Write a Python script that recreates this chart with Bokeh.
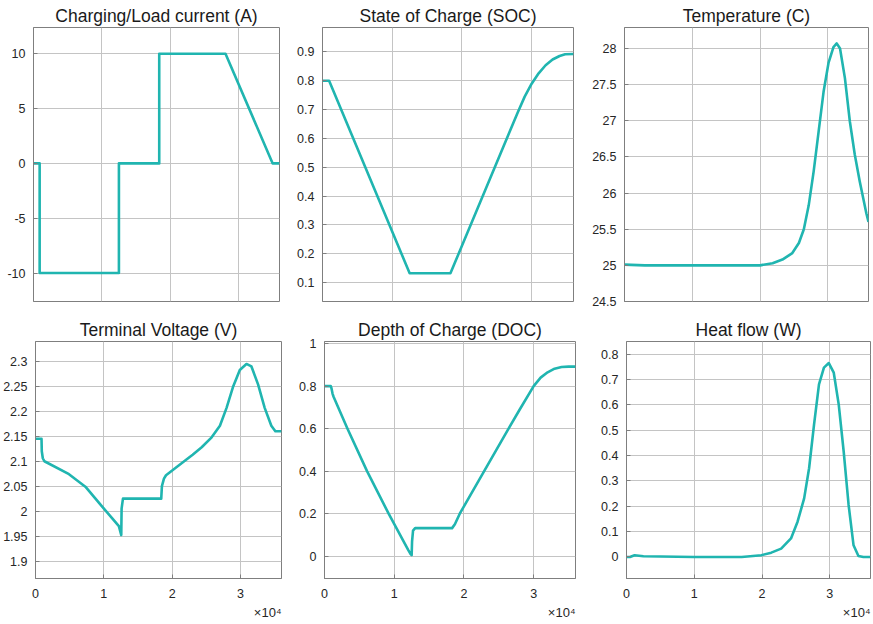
from bokeh.plotting import figure
from bokeh.layouts import column, row
from bokeh.models import Range1d, FixedTicker, Title
from bokeh.embed import file_html
from bokeh.resources import INLINE

# ---- data (time in s) ----
cur_t = [0, 900, 900, 12500, 12500, 18400, 18400, 28100, 35000, 36000]
cur_v = [0, 0, -10, -10, 0, 0, 10, 10, 0, 0]

soc_t = [0, 950, 12500, 18350, 28000, 29000, 30000, 31000, 32000, 33000, 34000, 34800, 36000]
soc_v = [0.80, 0.80, 0.132, 0.132, 0.69, 0.745, 0.79, 0.826, 0.854, 0.874, 0.886, 0.892, 0.893]

tmp_t = [0, 3000, 10000, 20000, 21850, 23300, 24760, 25730, 26460, 27180, 27910, 28640,
         29370, 30100, 30830, 31310, 31800, 32520, 33250, 33980, 34710, 35680, 36000]
tmp_v = [25.01, 25.0, 25.0, 25.0, 25.03, 25.08, 25.17, 25.31, 25.5, 25.83, 26.3, 26.85,
         27.4, 27.8, 28.02, 28.07, 28.0, 27.59, 26.99, 26.53, 26.16, 25.72, 25.6]

vol_t = [0, 880, 920, 1070, 1300, 4900, 7300, 9760, 11200, 12200, 12550, 12600, 12800,
         18400, 18500, 18800, 19100, 21950, 23000, 24320, 25780, 26990, 27960, 28930,
         29900, 30870, 31600, 32570, 33540, 34510, 35100, 36000]
vol_v = [2.145, 2.145, 2.12, 2.106, 2.10, 2.074, 2.049, 2.009, 1.986, 1.97, 1.952, 2.005, 2.025,
         2.025, 2.05, 2.065, 2.072, 2.102, 2.113, 2.128, 2.148, 2.171, 2.207, 2.25,
         2.283, 2.295, 2.29, 2.254, 2.207, 2.171, 2.16, 2.16]

doc_t = [0, 900, 1000, 1150, 1300, 3300, 6100, 9200, 12000, 12350, 12500, 12560, 12700, 13000,
         18300, 18700, 19400, 22900, 26400, 28000, 30000, 31000, 32000, 33000, 34000, 35000, 36000]
doc_v = [0.80, 0.80, 0.79, 0.765, 0.75, 0.6, 0.4, 0.2, 0.03, 0.01, 0.005, 0.07, 0.12, 0.132,
         0.132, 0.15, 0.2, 0.4, 0.6, 0.69, 0.80, 0.84, 0.865, 0.882, 0.89, 0.892, 0.892]

heat_t = [0, 500, 1200, 2500, 10000, 17000, 19900, 21360, 22820, 24270, 25240, 26210, 26940,
          27670, 28400, 29130, 29850, 30580, 31310, 32040, 32770, 33500, 34220, 34950, 36000]
heat_v = [0.0, 0.0, 0.007, 0.003, 0.0, 0.0, 0.007, 0.017, 0.033, 0.073, 0.139, 0.231, 0.35,
          0.522, 0.681, 0.747, 0.765, 0.727, 0.602, 0.417, 0.205, 0.046, 0.004, 0.0, 0.0]

x_ticks = [0, 10000, 20000, 30000]
x_labels = ["0", "1", "2", "3"]
x_mult = "×10⁴"

cur_ticks = [-10, -5, 0, 5, 10]
cur_labels = ["-10", "-5", "0", "5", "10"]
soc_ticks = [0.1, 0.2, 0.3, 0.4, 0.5, 0.6, 0.7, 0.8, 0.9]
soc_labels = ["0.1", "0.2", "0.3", "0.4", "0.5", "0.6", "0.7", "0.8", "0.9"]
tmp_ticks = [24.5, 25, 25.5, 26, 26.5, 27, 27.5, 28]
tmp_labels = ["24.5", "25", "25.5", "26", "26.5", "27", "27.5", "28"]
vol_ticks = [1.9, 1.95, 2.0, 2.05, 2.1, 2.15, 2.2, 2.25, 2.3]
vol_labels = ["1.9", "1.95", "2", "2.05", "2.1", "2.15", "2.2", "2.25", "2.3"]
doc_ticks = [0, 0.2, 0.4, 0.6, 0.8, 1.0]
doc_labels = ["0", "0.2", "0.4", "0.6", "0.8", "1"]
heat_ticks = [0, 0.1, 0.2, 0.3, 0.4, 0.5, 0.6, 0.7, 0.8]
heat_labels = ["0", "0.1", "0.2", "0.3", "0.4", "0.5", "0.6", "0.7", "0.8"]

LINE = "#20B5B0"
FONT = "Liberation Sans"


def make(title, xs, ys, yr, yt, yl, fw, fh, left, right, top, bottom, show_x):
    p = figure(frame_width=fw, frame_height=fh,
               x_range=Range1d(0, 36000), y_range=Range1d(*yr),
               output_backend="svg", toolbar_location=None,
               min_border_left=left, min_border_right=right,
               min_border_top=top, min_border_bottom=bottom,
               title=title)
    p.title.text_font = FONT
    p.title.text_font_size = "17.5px"
    p.title.text_font_style = "normal"
    p.title.text_color = "#1a1a1a"
    p.title.align = "center"
    p.title.standoff = 3
    p.outline_line_color = "#7f7f7f"
    p.outline_line_width = 1
    p.background_fill_color = "white"
    p.border_fill_color = "white"

    p.line(xs, ys, line_color=LINE, line_width=2.6, line_join="round")

    p.yaxis.ticker = FixedTicker(ticks=yt)
    p.ygrid.ticker = FixedTicker(ticks=yt)
    p.yaxis.major_label_overrides = {t: l for t, l in zip(yt, yl)}
    p.xaxis.ticker = FixedTicker(ticks=x_ticks)
    p.xgrid.ticker = FixedTicker(ticks=x_ticks)
    p.xaxis.major_label_overrides = {t: l for t, l in zip(x_ticks, x_labels)}

    for ax in (p.xaxis, p.yaxis):
        ax.axis_line_color = "#7f7f7f"
        ax.major_tick_in = 4
        ax.major_tick_out = 0
        ax.major_tick_line_color = "#7f7f7f"
        ax.minor_tick_line_color = None
        ax.major_label_text_font = FONT
        ax.major_label_text_font_size = "12.5px"
        ax.major_label_text_color = "#262626"
    p.yaxis.major_label_standoff = 8
    p.xaxis.major_label_standoff = 10

    for g in (p.xgrid, p.ygrid):
        g.grid_line_color = "#c4c4c4"
        g.grid_line_width = 1
        g.grid_line_alpha = 1.0

    if show_x:
        p.add_layout(Title(text=x_mult, align="right", text_font=FONT,
                           text_font_size="13px", text_font_style="normal",
                           text_color="#262626", standoff=4), "below")
    else:
        p.xaxis.visible = False
    return p


W1, W2, W3 = 246, 251, 244
H1, H2 = 274, 237

p1 = make("Charging/Load current (A)", cur_t, cur_v, (-12.6, 12.4), cur_ticks, cur_labels,
          W1, H1, 33, 8, 27, 8, False)
p2 = make("State of Charge (SOC)", soc_t, soc_v, (0.034, 0.985), soc_ticks, soc_labels,
          W2, H1, 35, 8, 27, 8, False)
p3 = make("Temperature (C)", tmp_t, tmp_v, (24.5, 28.29), tmp_ticks, tmp_labels,
          W3, H1, 43, 4, 27, 8, False)
p4 = make("Terminal Voltage (V)", vol_t, vol_v, (1.865, 2.34), vol_ticks, vol_labels,
          W1, H2, 33, 8, 32, 44, True)
p5 = make("Depth of Charge (DOC)", doc_t, doc_v, (-0.105, 1.01), doc_ticks, doc_labels,
          W2, H2, 35, 8, 32, 44, True)
p6 = make("Heat flow (W)", heat_t, heat_v, (-0.085, 0.85), heat_ticks, heat_labels,
          W3, H2, 43, 4, 32, 44, True)

layout = column(row(p1, p2, p3), row(p4, p5, p6))
open("out.html", "w").write(file_html(layout, INLINE))
